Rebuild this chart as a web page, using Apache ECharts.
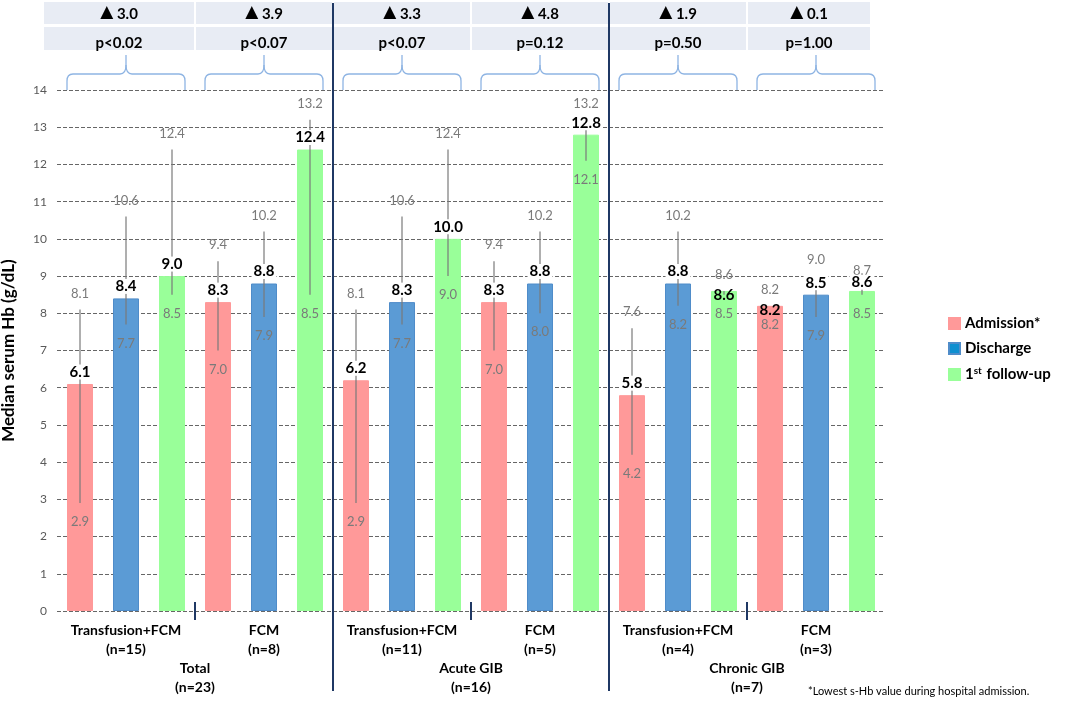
<!DOCTYPE html>
<html>
<head>
<meta charset="utf-8">
<title>Median serum Hb</title>
<script src="https://cdn.jsdelivr.net/npm/echarts@6/dist/echarts.min.js"></script>
<style>
  html, body { margin: 0; padding: 0; background: #fff; }
  #chart { width: 1084px; height: 706px; }
</style>
</head>
<body>
<div id="chart"></div>
<script>
// 每组三根柱：入院 / 出院 / 首次随访
const phases = ['Admission*', 'Discharge', '1st follow-up'];
const groupLabels = [
    'Transfusion+FCM\n(n=15)', 'FCM\n(n=8)',
    'Transfusion+FCM\n(n=11)', 'FCM\n(n=5)',
    'Transfusion+FCM\n(n=4)', 'FCM\n(n=3)'
];
const sectionLabels = ['Total\n(n=23)', 'Acute GIB\n(n=16)', 'Chronic GIB\n(n=7)'];

const admissionMedian = [6.1, 8.3, 6.2, 8.3, 5.8, 8.2];
const admissionLow = [2.9, 7.0, 2.9, 7.0, 4.2, 8.2];
const admissionHigh = [8.1, 9.4, 8.1, 9.4, 7.6, 8.2];

const dischargeMedian = [8.4, 8.8, 8.3, 8.8, 8.8, 8.5];
const dischargeLow = [7.7, 7.9, 7.7, 8.0, 8.2, 7.9];
const dischargeHigh = [10.6, 10.2, 10.6, 10.2, 10.2, 9.0];

const followMedian = [9.0, 12.4, 10.0, 12.8, 8.6, 8.6];
const followLow = [8.5, 8.5, 9.0, 12.1, 8.5, 8.5];
const followHigh = [12.4, 13.2, 12.4, 13.2, 8.6, 8.7];

const deltas = ['3.0', '3.9', '3.3', '4.8', '1.9', '0.1'];
const pValues = ['p<0.02', 'p<0.07', 'p<0.07', 'p=0.12', 'p=0.50', 'p=1.00'];

const yMin = 0;
const yMax = 14;
const yStep = 1;

const footnote = '*Lowest s-Hb value during hospital admission.';

const barColors = ['#ff9999', '#5b9bd5', '#99ff99'];
const legendColors = ['#ff9999', '#0f8fd0', '#99ff99'];
const navy = '#1f3864';
const grey = '#7a7a7a';
const FONT = 'Lato, "Open Sans", sans-serif';
const BAR_W = 26;

const medians = [admissionMedian, dischargeMedian, followMedian];
const lows = [admissionLow, dischargeLow, followLow];
const highs = [admissionHigh, dischargeHigh, followHigh];

const barCategories = [];
groupLabels.forEach(g => {
    phases.forEach(p => barCategories.push(g.replace('\n', ' ') + ' - ' + p));
});

const rangeData = barCategories.map((_, i) => {
    const g = Math.floor(i / 3), p = i % 3;
    return [i, lows[p][g], highs[p][g], medians[p][g], p];
});

const headerData = groupLabels.map((_, g) => [g * 3, g * 3 + 2, g]);

// 误差线 + 上下四分位标签 + 中位数标签
function renderRange(params, api) {
    const i = api.value(0);
    const low = api.value(1), high = api.value(2), med = api.value(3);
    const x = api.coord([i, med])[0];
    const yLow = api.coord([i, low])[1];
    const yHigh = api.coord([i, high])[1];
    const yMed = api.coord([i, med])[1];
    const highY = yHigh - 16;
    let medY, medBg;
    if (high - med < 0.05) {
        // 与上限重合时放到柱内
        medY = yMed + 4;
        medBg = null;
    } else {
        medY = Math.max(yMed - 12, highY + 11);
        medBg = '#fff';
    }
    return {
        type: 'group',
        children: [
            { type: 'line', shape: { x1: x, y1: yHigh, x2: x, y2: yLow }, style: { stroke: grey, lineWidth: 1.2 } },
            { type: 'text', style: { text: high.toFixed(1), x, y: highY, align: 'center', verticalAlign: 'middle', fill: grey, font: '13px ' + FONT } },
            { type: 'text', style: { text: low.toFixed(1), x, y: yLow + 19, align: 'center', verticalAlign: 'middle', fill: grey, font: '13px ' + FONT } },
            { type: 'text', style: { text: med.toFixed(1), x, y: medY, align: 'center', verticalAlign: 'middle', fill: '#000', font: 'bold 15px ' + FONT, backgroundColor: medBg, padding: [0, 2] } }
        ]
    };
}

function seg(x1, y1, x2, y2, style) {
    return { type: 'line', shape: { x1, y1, x2, y2 }, style };
}

function quad(x1, y1, cpx1, cpy1, x2, y2, style) {
    return { type: 'bezierCurve', shape: { x1, y1, cpx1, cpy1, x2, y2 }, style };
}

// 顶部表头、花括号和分隔线
function renderHeader(params, api) {
    const first = api.value(0), last = api.value(1), g = api.value(2);
    const band = api.size([1, 0])[0];
    const xFirst = api.coord([first, 0])[0];
    const xLast = api.coord([last, 0])[0];
    const y0 = api.coord([first, 0])[1];
    const yTop = api.coord([first, yMax])[1];
    const left = xFirst - band / 2;
    const right = xLast + band / 2;
    const boxL = left + 1 - (g === 0 ? 14 : 0);
    const boxR = right - 1 - (g === groupLabels.length - 1 ? 14 : 0);
    const cx = (boxL + boxR) / 2;
    const children = [
        { type: 'rect', shape: { x: boxL, y: yTop - 88, width: boxR - boxL, height: 22 }, style: { fill: '#e8ecf4' } },
        { type: 'rect', shape: { x: boxL, y: yTop - 63, width: boxR - boxL, height: 23 }, style: { fill: '#e8ecf4' } },
        {
            type: 'text',
            style: {
                text: '{t|▲} ' + deltas[g], x: cx, y: yTop - 76, align: 'center', verticalAlign: 'middle',
                fill: '#000', font: 'bold 15px ' + FONT,
                rich: { t: { fontSize: 17, fontFamily: 'DejaVu Sans', fill: '#000', padding: [0, 0, 2, 0] } }
            }
        },
        { type: 'text', style: { text: pValues[g], x: cx, y: yTop - 47, align: 'center', verticalAlign: 'middle', fill: '#000', font: 'bold 15px ' + FONT } }
    ];

    const L = xFirst - BAR_W / 2, R = xLast + BAR_W / 2, c = (L + R) / 2;
    const yb = yTop, ym = yTop - 16, yt = yTop - 35;
    const bs = { stroke: '#8eb4e3', lineWidth: 1.3, fill: null };
    children.push(
        seg(L, yb, L, yb - 9, bs),
        quad(L, yb - 9, L, ym, L + 6, ym, bs),
        seg(L + 6, ym, c - 6, ym, bs),
        quad(c - 6, ym, c, ym, c, ym - 9, bs),
        seg(c, ym - 9, c, yt, bs),
        quad(c, ym - 9, c, ym, c + 6, ym, bs),
        seg(c + 6, ym, R - 6, ym, bs),
        quad(R - 6, ym, R, ym, R, yb - 9, bs),
        seg(R, yb - 9, R, yb, bs)
    );

    if (g % 2 === 1) {
        children.push(seg(left, y0 - 9, left, y0 + 9, { stroke: navy, lineWidth: 2 }));
        if (g < groupLabels.length - 1) {
            children.push(seg(right, yTop - 87, right, y0 + 80, { stroke: navy, lineWidth: 2 }));
        }
    }
    return { type: 'group', children };
}

function hiddenAxisParts() {
    return { axisLine: { show: false }, axisTick: { show: false }, splitLine: { show: false } };
}

function initChart() {
    const chart = echarts.init(document.getElementById('chart'));

    const barSeries = phases.map((name, p) => ({
        name,
        type: 'bar',
        barWidth: BAR_W,
        barGap: '-100%',
        itemStyle: {
            color: barColors[p],
            borderColor: p === 1 ? '#4f8cc9' : barColors[p],
            borderWidth: 1
        },
        data: barCategories.map((_, i) => (i % 3 === p ? medians[p][Math.floor(i / 3)] : '-')),
        z: 2
    }));

    const labelStyle = { interval: 0, fontFamily: FONT, fontSize: 14, fontWeight: 'bold', color: '#000', lineHeight: 19 };

    chart.setOption({
        animation: false,
        grid: { left: 57, right: 199, top: 90, bottom: 95, outerBoundsMode: 'none' },
        legend: {
            orient: 'vertical',
            left: 943,
            top: 311,
            icon: 'rect',
            itemWidth: 11,
            itemHeight: 11,
            itemGap: 10,
            selectedMode: false,
            data: phases.map((name, p) => ({ name, itemStyle: { color: legendColors[p] } })),
            formatter: name => name.replace(/^1st/, '1{sup|st}'),
            textStyle: {
                fontFamily: FONT,
                fontSize: 15,
                fontWeight: 'bold',
                color: '#000',
                rich: {
                    sup: { fontFamily: FONT, fontSize: 10, fontWeight: 'bold', color: '#000', verticalAlign: 'bottom', padding: [0, 1, 7, 0] }
                }
            }
        },
        xAxis: [
            Object.assign({ type: 'category', data: barCategories, axisLabel: { show: false } }, hiddenAxisParts()),
            Object.assign({
                type: 'category',
                position: 'bottom',
                data: groupLabels,
                axisLabel: Object.assign({ margin: 10 }, labelStyle)
            }, hiddenAxisParts()),
            Object.assign({
                type: 'category',
                position: 'bottom',
                data: sectionLabels,
                axisLabel: Object.assign({ margin: 48 }, labelStyle)
            }, hiddenAxisParts())
        ],
        yAxis: {
            type: 'value',
            min: yMin,
            max: yMax,
            interval: yStep,
            name: 'Median serum Hb (g/dL)',
            nameLocation: 'middle',
            nameGap: 40,
            nameTextStyle: { fontFamily: FONT, fontSize: 17, fontWeight: 'bold', color: '#000' },
            axisLine: { show: false },
            axisTick: { show: false },
            axisLabel: { margin: 10, fontFamily: FONT, fontSize: 12, color: '#595959' },
            splitLine: { lineStyle: { color: '#666', type: [4, 2], width: 1 } }
        },
        graphic: [{
            type: 'text',
            left: 808,
            top: 686,
            style: { text: footnote, font: '11px ' + FONT, fill: '#000' }
        }],
        series: barSeries.concat([
            {
                name: 'range',
                type: 'custom',
                renderItem: renderRange,
                data: rangeData,
                encode: { x: 0, y: [1, 2] },
                clip: false,
                silent: true,
                z: 5
            },
            {
                name: 'header',
                type: 'custom',
                renderItem: renderHeader,
                data: headerData,
                encode: { x: [0, 1] },
                clip: false,
                silent: true,
                z: 6
            }
        ])
    });
}

window.addEventListener('DOMContentLoaded', initChart);
</script>
</body>
</html>
